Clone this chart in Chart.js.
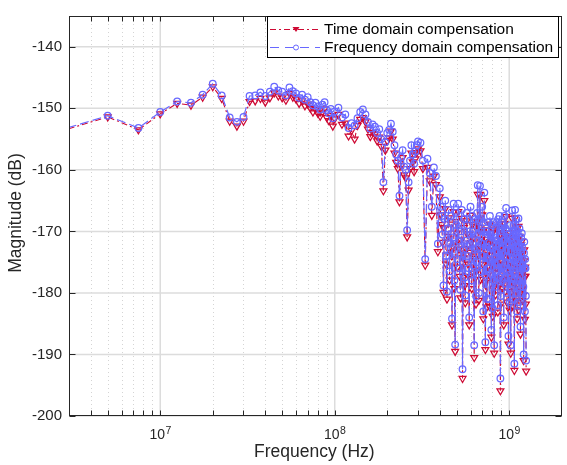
<!DOCTYPE html>
<html>
<head>
<meta charset="utf-8">
<script src="https://cdn.jsdelivr.net/npm/chart.js@4.4.1/dist/chart.umd.min.js"></script>
<style>
    html, body { margin: 0; padding: 0; background: #fff; }
    #chartBox { width: 567px; height: 465px; }
</style>
</head>
<body>
<div id="chartBox"><canvas id="myChart" width="567" height="465"></canvas></div>
<script>
// frequency points in MHz
const freqMHz = [
    2.5, 5, 7.5, 10, 12.5, 15, 17.5, 20, 22.5, 25, 27.5, 30, 32.5, 35, 37.5, 40, 42.5, 45, 47.5, 50,
    52.5, 55, 57.5, 60, 62.5, 65, 67.5, 70, 72.5, 75, 77.5, 80, 82.5, 85, 87.5, 90, 92.5, 95, 97.5, 100,
    105, 110, 115, 120, 125, 130, 135, 140, 145, 150, 155, 160, 165, 170, 175, 180, 185, 190, 195, 200,
    205, 210, 215, 220, 225, 230, 235, 240, 245, 250, 255, 260, 265, 270, 275, 280, 285, 290, 295, 300,
    310, 320, 330, 340, 350, 360, 370, 380, 390,
    400, 405, 410, 415, 420, 425, 430, 435, 440, 445, 450, 455, 460, 465, 470, 475, 480, 485, 490, 495,
    500, 505, 510, 515, 520, 525, 530, 535, 540, 545, 550, 555, 560, 565, 570, 575, 580, 585, 590, 595,
    600, 605, 610, 615, 620, 625, 630, 635, 640, 645, 650, 655, 660, 665, 670, 675, 680, 685, 690, 695,
    700, 705, 710, 715, 720, 725, 730, 735, 740, 745, 750, 755, 760, 765, 770, 775, 780, 785, 790, 795,
    800, 805, 810, 815, 820, 825, 830, 835, 840, 845, 850, 855, 860, 865, 870, 875, 880, 885, 890, 895,
    900, 905, 910, 915, 920, 925, 930, 935, 940, 945, 950, 955, 960, 965, 970, 975, 980, 985, 990, 995,
    1000, 1005, 1010, 1015, 1020, 1025, 1030, 1035, 1040, 1045, 1050, 1055, 1060, 1065, 1070, 1075, 1080, 1085, 1090, 1095,
    1100, 1105, 1110, 1115, 1120, 1125, 1130, 1135, 1140, 1145, 1150, 1155, 1160, 1165, 1170, 1175, 1180, 1185, 1190, 1195,
    1200, 1205, 1210, 1215, 1220, 1225, 1230, 1235, 1240, 1245, 1250
];

// magnitude (dB), time domain compensation
const timeDomain = [
    -154.0, -151.4, -153.5, -150.9, -149.2, -149.5, -148.2, -146.5, -148.4, -152.1, -152.9, -152.1, -148.9, -148.8, -148.4, -149.0, -148.3, -147.5, -148.0, -148.3,
    -148.7, -147.6, -148.2, -148.5, -149.2, -148.8, -149.6, -149.3, -150.0, -150.6, -150.2, -150.8, -151.3, -150.6, -150.1, -151.5, -152.0, -151.2, -152.9, -151.7,
    -151.0, -152.6, -152.4, -154.5, -153.6, -155.0, -152.8, -151.8, -151.5, -152.2, -153.4, -154.6, -153.9, -154.2, -155.3, -154.7, -156.2, -163.4, -156.8, -155.3,
    -154.8, -153.7, -155.0, -157.3, -158.8, -159.8, -165.2, -159.3, -158.0, -160.8, -161.3, -170.9, -163.3, -159.8, -157.3, -158.7, -160.3, -158.2, -157.2, -156.6,
    -156.9, -159.8, -175.5, -159.6, -161.8, -167.4, -161.0, -162.4, -173.3,
    -164.4, -167.3, -168.9, -171.8, -179.9, -169.4, -166.3, -175.3, -181.0, -170.8, -167.8, -177.9, -173.4, -168.8, -185.2, -172.4, -166.8, -179.3, -189.5, -168.4,
    -170.3, -175.8, -166.8, -172.9, -177.3, -180.8, -171.4, -167.9, -193.9, -174.3, -169.4, -178.8, -181.6, -172.8, -168.3, -170.4, -175.3, -177.3, -185.2, -173.4,
    -167.4, -171.8, -179.3, -168.9, -171.2, -176.8, -190.5, -174.4, -169.2, -181.8, -176.3, -168.4, -164.0, -172.8, -181.2, -169.4, -164.0, -177.8, -173.2, -171.3,
    -167.3, -175.3, -184.2, -169.8, -165.0, -178.3, -189.2, -173.8, -171.3, -182.3, -177.2, -171.8, -169.8, -175.8, -182.2, -168.8, -171.7, -174.8, -187.2, -172.3,
    -170.2, -183.8, -179.3, -169.8, -189.8, -176.3, -172.3, -180.3, -177.7, -172.8, -169.6, -174.8, -183.1, -169.3, -173.2, -178.8, -168.8, -175.3, -195.9, -181.8,
    -171.3, -169.8, -179.2, -173.8, -170.2, -177.8, -185.2, -172.8, -168.7, -179.8, -176.2, -170.8, -167.6, -174.3, -181.5, -171.3, -172.3, -177.8, -188.3, -173.3,
    -171.8, -182.8, -178.2, -170.3, -189.8, -176.8, -173.2, -179.8, -167.9, -172.3, -182.2, -175.8, -170.3, -171.3, -192.6, -178.3, -167.8, -173.8, -175.3, -181.3,
    -169.3, -171.8, -184.2, -176.3, -171.3, -173.8, -169.2, -182.8, -179.3, -170.8, -173.8, -177.3, -186.7, -174.3, -172.2, -179.8, -171.6, -173.8, -181.2, -176.8,
    -175.9, -180.3, -191.0, -174.8, -173.0, -177.3, -184.3, -175.8, -177.3, -181.8, -192.7
];

// magnitude (dB), frequency domain compensation
const freqDomain = [
    -153.8, -151.2, -153.2, -150.6, -148.9, -149.1, -147.8, -146.0, -147.9, -151.5, -152.2, -151.4, -148.0, -147.9, -147.4, -148.0, -147.3, -146.5, -147.1, -147.3,
    -147.9, -146.6, -147.2, -147.6, -148.3, -147.8, -148.6, -148.2, -149.0, -149.5, -149.1, -149.7, -150.2, -149.4, -149.0, -150.3, -150.8, -150.1, -151.6, -150.5,
    -149.9, -151.5, -151.0, -153.2, -152.4, -152.8, -151.6, -150.6, -150.2, -151.0, -152.2, -153.3, -152.6, -153.0, -154.0, -153.4, -155.0, -162.0, -155.5, -154.0,
    -153.5, -152.5, -153.8, -156.0, -157.5, -158.5, -164.2, -158.0, -156.8, -159.5, -160.0, -169.8, -162.0, -158.5, -156.0, -157.5, -159.0, -157.0, -156.0, -155.4,
    -155.6, -158.5, -174.5, -158.2, -160.5, -166.0, -159.6, -161.0, -172.0,
    -163.0, -166.0, -167.5, -170.5, -178.8, -168.0, -165.0, -174.0, -179.8, -169.5, -166.5, -176.5, -172.0, -167.5, -184.2, -171.0, -165.5, -178.0, -188.4, -167.0,
    -169.0, -174.5, -165.5, -171.5, -176.0, -179.5, -170.0, -166.5, -192.4, -173.0, -168.0, -177.5, -180.4, -171.5, -167.0, -169.0, -174.0, -176.0, -184.0, -172.0,
    -166.0, -170.5, -178.0, -167.5, -170.0, -175.5, -188.5, -173.0, -168.0, -180.5, -175.0, -167.0, -162.5, -171.5, -180.0, -168.0, -162.6, -176.5, -172.0, -170.0,
    -166.0, -174.0, -183.0, -168.5, -163.7, -177.0, -188.0, -172.5, -170.0, -181.0, -176.0, -170.5, -168.5, -174.5, -181.0, -167.5, -170.5, -173.5, -186.0, -171.0,
    -169.0, -182.5, -178.0, -168.5, -188.5, -175.0, -171.0, -179.0, -176.5, -171.5, -168.5, -173.5, -182.0, -168.0, -172.0, -177.5, -167.5, -174.0, -193.9, -180.5,
    -170.0, -168.5, -178.0, -172.5, -169.0, -176.5, -184.0, -171.5, -167.5, -178.5, -175.0, -169.5, -166.2, -173.0, -180.0, -170.0, -171.0, -176.5, -187.0, -172.0,
    -170.5, -181.5, -177.0, -169.0, -188.5, -175.5, -172.0, -178.5, -166.6, -171.0, -181.0, -174.5, -169.0, -170.0, -191.5, -177.0, -166.5, -172.5, -174.0, -180.0,
    -168.0, -170.5, -183.0, -175.0, -170.0, -172.5, -167.9, -181.5, -178.0, -169.5, -172.5, -176.0, -185.5, -173.0, -171.0, -178.5, -170.3, -172.5, -180.0, -175.5,
    -174.6, -179.0, -190.0, -173.5, -171.7, -176.0, -183.0, -174.5, -176.0, -180.5, -191.0
];

// axis ticks
const yTicks = [-200, -190, -180, -170, -160, -150, -140];
const xDecades = [1e7, 1e8, 1e9];
const xExponents = ['7', '8', '9'];

const seriesNames = ['Time domain compensation', 'Frequency domain compensation'];
const redColor = 'rgb(206, 10, 52)';
const blueColor = 'rgb(104, 104, 255)';
const axisColor = '#262626';
const fontFam = '"Liberation Sans", Arial, sans-serif';

//build points
const timePts = freqMHz.map((f, i) => ({ x: f * 1e6, y: timeDomain[i] }));
const freqPts = freqMHz.map((f, i) => ({ x: f * 1e6, y: freqDomain[i] }));

// minor decade positions for dotted grid
let xMinor = [];
for (let d = 1e6; d <= 1e9; d *= 10) {
    for (let m = 2; m <= 9; m++) xMinor.push(m * d);
}

const frame = {
    id: 'frame',
    beforeDatasetsDraw(chart) {
        const { ctx, chartArea: a, scales: { x, y } } = chart;
        ctx.save();
        ctx.lineWidth = 1;

        // dotted minor grid
        ctx.strokeStyle = 'rgb(212, 212, 212)';
        ctx.setLineDash([1, 3]);
        xMinor.forEach(v => {
            const px = x.getPixelForValue(v);
            if (px <= a.left || px >= a.right) return;
            const p = Math.round(px) + 0.5;
            ctx.beginPath();
            ctx.moveTo(p, a.top);
            ctx.lineTo(p, a.bottom);
            ctx.stroke();
        });

        // solid major grid
        ctx.setLineDash([]);
        ctx.strokeStyle = 'rgb(220, 220, 220)';
        ctx.lineWidth = 1.5;
        xDecades.forEach(v => {
            const p = x.getPixelForValue(v);
            ctx.beginPath();
            ctx.moveTo(p, a.top);
            ctx.lineTo(p, a.bottom);
            ctx.stroke();
        });
        yTicks.forEach(v => {
            const p = y.getPixelForValue(v);
            ctx.beginPath();
            ctx.moveTo(a.left, p);
            ctx.lineTo(a.right, p);
            ctx.stroke();
        });
        ctx.restore();
    },
    afterDatasetsDraw(chart) {
        const { ctx, chartArea: a, scales: { x, y } } = chart;
        ctx.save();
        ctx.strokeStyle = axisColor;
        ctx.lineWidth = 1;
        const L = Math.round(a.left) + 0.5, R = Math.round(a.right) - 0.5;
        const T = Math.round(a.top) + 0.5, B = Math.round(a.bottom) - 0.5;
        ctx.strokeRect(L, T, R - L, B - T);

        // ticks inside the box
        ctx.beginPath();
        xMinor.concat(xDecades).forEach(v => {
            const px = x.getPixelForValue(v);
            if (px <= a.left || px >= a.right) return;
            const p = Math.round(px) + 0.5;
            ctx.moveTo(p, B); ctx.lineTo(p, B - 5);
            ctx.moveTo(p, T); ctx.lineTo(p, T + 5);
        });
        yTicks.forEach(v => {
            const p = Math.round(y.getPixelForValue(v)) + 0.5;
            ctx.moveTo(L, p); ctx.lineTo(L + 6, p);
            ctx.moveTo(R, p); ctx.lineTo(R - 6, p);
        });
        ctx.stroke();

        // x tick labels 10^n
        ctx.fillStyle = axisColor;
        ctx.textBaseline = 'alphabetic';
        xDecades.forEach((v, i) => {
            const px = x.getPixelForValue(v);
            ctx.font = '14px ' + fontFam;
            const w1 = ctx.measureText('10').width;
            ctx.font = '10.5px ' + fontFam;
            const w2 = ctx.measureText(xExponents[i]).width;
            const start = px - (w1 + w2) / 2;
            ctx.font = '14px ' + fontFam;
            ctx.textAlign = 'left';
            ctx.fillText('10', start, 438.5);
            ctx.font = '10.5px ' + fontFam;
            ctx.fillText(xExponents[i], start + w1 + 0.5, 433.5);
        });

        // axis titles
        ctx.font = '17.5px ' + fontFam;
        ctx.textAlign = 'center';
        ctx.fillText('Frequency (Hz)', (a.left + a.right) / 2 - 1, 457);
        ctx.save();
        ctx.translate(21, (a.top + a.bottom) / 2 - 3);
        ctx.rotate(-Math.PI / 2);
        ctx.fillText('Magnitude (dB)', 0, 0);
        ctx.restore();

        // legend box
        ctx.fillStyle = '#fff';
        ctx.fillRect(267.5, 16.5, 291, 41);
        ctx.strokeStyle = '#000';
        ctx.strokeRect(267.5, 16.5, 291, 41);

        const rows = [29, 47];
        // time domain sample
        ctx.strokeStyle = redColor;
        ctx.lineWidth = 1;
        ctx.setLineDash([6, 3, 2, 3]);
        ctx.beginPath();
        ctx.moveTo(270, rows[0] + 0.5); ctx.lineTo(320, rows[0] + 0.5);
        ctx.stroke();
        ctx.setLineDash([]);
        ctx.fillStyle = redColor;
        ctx.beginPath();
        ctx.moveTo(292.5, rows[0] - 2);
        ctx.lineTo(299.5, rows[0] - 2);
        ctx.lineTo(296, rows[0] + 3);
        ctx.closePath();
        ctx.fill();

        // frequency domain sample
        ctx.strokeStyle = blueColor;
        ctx.setLineDash([9, 6]);
        ctx.beginPath();
        ctx.moveTo(270, rows[1] + 0.5); ctx.lineTo(320, rows[1] + 0.5);
        ctx.stroke();
        ctx.setLineDash([]);
        ctx.fillStyle = '#fff';
        ctx.beginPath();
        ctx.arc(296, rows[1] + 0.5, 2.5, 0, Math.PI * 2);
        ctx.fill();
        ctx.stroke();

        ctx.fillStyle = '#000';
        ctx.font = '15.5px ' + fontFam;
        ctx.textAlign = 'left';
        ctx.textBaseline = 'middle';
        ctx.fillText(seriesNames[0], 324, rows[0] + 1);
        ctx.fillText(seriesNames[1], 324, rows[1] + 1);
        ctx.restore();
    }
};

const chart = new Chart('myChart', {
    type: 'line',
    data: {
        datasets: [{
            label: seriesNames[0],
            data: timePts,
            borderColor: redColor,
            borderWidth: 1.1,
            borderDash: [6, 3, 2, 3],
            pointStyle: 'triangle',
            pointRotation: 180,
            pointRadius: 4,
            pointBorderWidth: 1.25,
            pointBorderColor: redColor,
            pointBackgroundColor: 'rgba(255,255,255,0)',
            tension: 0,
            fill: false,
            clip: 0,
            order: 1
        }, {
            label: seriesNames[1],
            data: freqPts,
            borderColor: blueColor,
            borderWidth: 1.2,
            borderDash: [9, 4],
            pointStyle: 'circle',
            pointRadius: 3.3,
            pointBorderWidth: 1.25,
            pointBorderColor: blueColor,
            pointBackgroundColor: 'rgba(255,255,255,0)',
            tension: 0,
            fill: false,
            clip: 0,
            order: 0
        }]
    },
    options: {
        responsive: false,
        animation: false,
        devicePixelRatio: 1,
        layout: { padding: { top: 8, right: -2, bottom: 0, left: 0 } },
        plugins: {
            legend: { display: false },
            tooltip: { enabled: false }
        },
        scales: {
            x: {
                type: 'logarithmic',
                min: 3e6,
                max: 2e9,
                grid: { display: false },
                border: { display: false },
                ticks: { display: false },
                afterFit: (scale) => { scale.height = 49; }
            },
            y: {
                type: 'linear',
                min: -200,
                max: -135,
                grid: { display: false, drawTicks: false },
                border: { display: false },
                ticks: {
                    padding: 7,
                    color: axisColor,
                    font: { family: fontFam, size: 15 }
                },
                afterBuildTicks: (scale) => {
                    scale.ticks = yTicks.map(v => ({ value: v }));
                },
                afterFit: (scale) => { scale.width = 69; }
            }
        }
    },
    plugins: [frame]
});
</script>
</body>
</html>
